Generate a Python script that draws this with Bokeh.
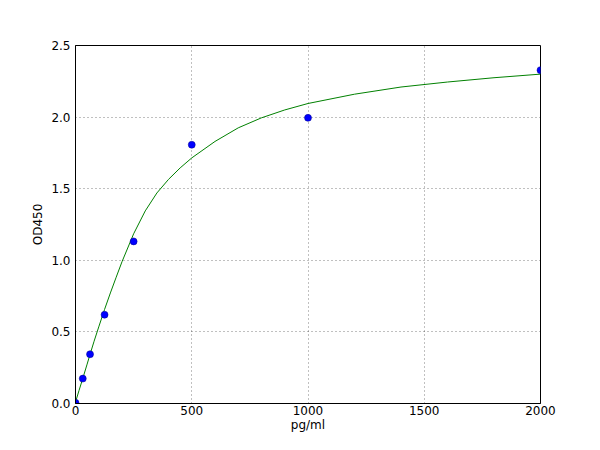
from bokeh.plotting import figure
from bokeh.models import Range1d, FixedTicker, PrintfTickFormatter
from bokeh.embed import file_html
from bokeh.resources import INLINE

# Standard points
conc = [0, 31.25, 62.5, 125, 250, 500, 1000, 2000]
od = [0.005, 0.174, 0.344, 0.62, 1.132, 1.807, 1.995, 2.328]

# Fitted curve
curve_x = [0, 15, 31.25, 50, 62.5, 80, 100, 125, 150, 175, 200, 250, 300, 350,
           400, 450, 500, 600, 700, 800, 900, 1000, 1200, 1400, 1600, 1800, 2000]
curve_y = [0.01, 0.09, 0.175, 0.275, 0.343, 0.435, 0.535, 0.657, 0.772, 0.882,
           0.99, 1.185, 1.345, 1.47, 1.565, 1.645, 1.715, 1.83, 1.925, 1.995,
           2.05, 2.095, 2.16, 2.21, 2.245, 2.275, 2.30]

x_ticks = [0, 500, 1000, 1500, 2000]
y_ticks = [0.0, 0.5, 1.0, 1.5, 2.0, 2.5]

x_title = "pg/ml"
y_title = "OD450"

FONT = "DejaVu Sans"

p = figure(width=584, height=434, output_backend="svg", toolbar_location=None,
           x_range=Range1d(0, 2000), y_range=Range1d(0, 2.5),
           min_border_left=75, min_border_right=44, min_border_top=45,
           min_border_bottom=31)

p.background_fill_color = "white"
p.border_fill_color = "white"
p.outline_line_color = "black"
p.outline_line_width = 1
p.outline_line_alpha = 1

p.xaxis.ticker = FixedTicker(ticks=x_ticks)
p.yaxis.ticker = FixedTicker(ticks=y_ticks)
p.yaxis.formatter = PrintfTickFormatter(format="%.1f")

for ax in (p.xaxis, p.yaxis):
    ax.major_tick_line_color = None
    ax.minor_tick_line_color = None
    ax.major_tick_out = 0
    ax.major_tick_in = 0
    ax.minor_tick_out = 0
    ax.minor_tick_in = 0
    ax.axis_line_color = "black"
    ax.major_label_text_font = FONT
    ax.major_label_text_font_size = "12px"
    ax.major_label_text_color = "black"
    ax.axis_label_text_font = FONT
    ax.axis_label_text_font_size = "12px"
    ax.axis_label_text_font_style = "normal"
    ax.axis_label_text_color = "black"

p.xaxis.major_label_standoff = 2
p.xaxis.axis_label_standoff = 0
p.yaxis.major_label_standoff = 5
p.yaxis.axis_label_standoff = 3

p.xaxis.axis_label = x_title
p.yaxis.axis_label = y_title

for g in (p.xgrid, p.ygrid):
    g.grid_line_color = "black"
    g.grid_line_width = 0.5
    g.grid_line_dash = "1 3"

p.line(curve_x, curve_y, line_color="#008000", line_width=1)
p.scatter(conc, od, size=7, fill_color="#0000ff", line_color="#00008b",
          line_width=0.5)

open("out.html", "w").write(file_html(p, INLINE))
